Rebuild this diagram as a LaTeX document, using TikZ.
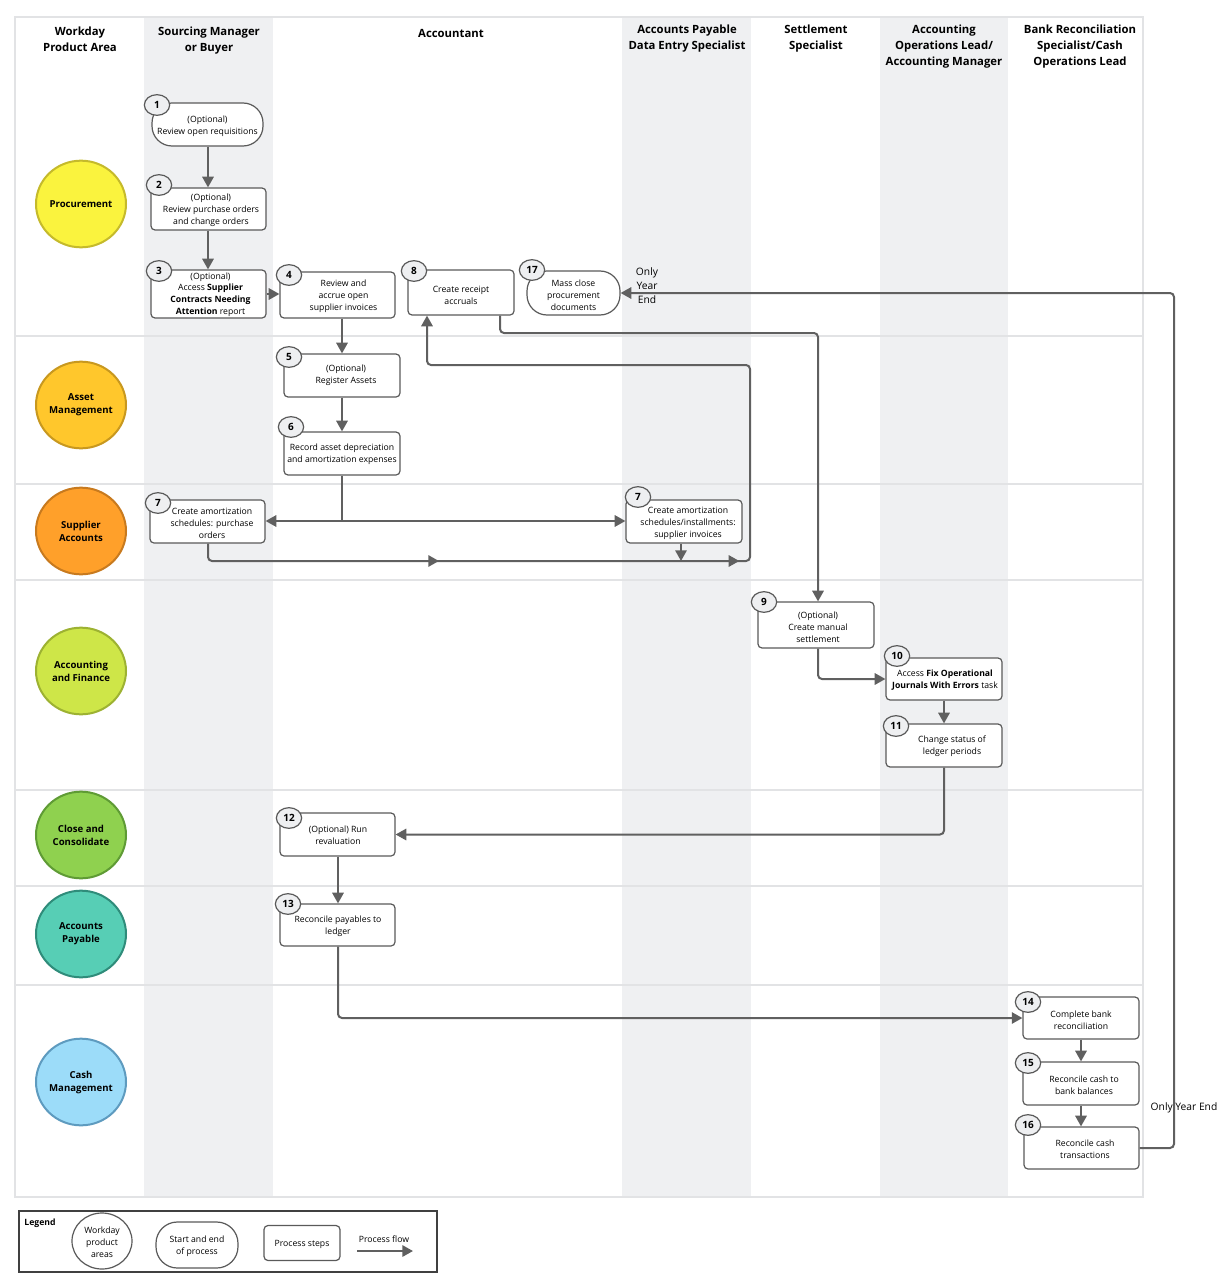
\documentclass[tikz,border=0pt]{standalone}
\usepackage{fontspec}
\setmainfont{Open Sans}
\usetikzlibrary{arrows.meta,decorations.markings,shapes.geometric}
\definecolor{lanegray}{HTML}{EFF0F2}
\definecolor{gridc}{HTML}{E2E3E5}
\definecolor{boxline}{HTML}{5A5A5A}
\definecolor{flowc}{HTML}{606060}
\definecolor{badgefill}{HTML}{EEEFF1}
\definecolor{procF}{HTML}{FAF33E}\definecolor{procD}{HTML}{C5BA2B}
\definecolor{assetF}{HTML}{FFC72C}\definecolor{assetD}{HTML}{C8981F}
\definecolor{suppF}{HTML}{FFA02A}\definecolor{suppD}{HTML}{C87A1E}
\definecolor{accF}{HTML}{CEE648}\definecolor{accD}{HTML}{9DB232}
\definecolor{closeF}{HTML}{8FD14F}\definecolor{closeD}{HTML}{5F9B35}
\definecolor{apF}{HTML}{57CEB5}\definecolor{apD}{HTML}{2F8C7A}
\definecolor{cashF}{HTML}{9CDCF9}\definecolor{cashD}{HTML}{5E9BBF}
\begin{document}
\begin{tikzpicture}[x=0.75pt,y=-0.75pt,
  hdr/.style={font=\fontsize{8.5}{12}\selectfont\bfseries, align=center},
  area/.style 2 args={ellipse, fill=#1, draw=#2, line width=1.5pt, minimum width=67.5pt, minimum height=65pt, inner sep=0pt},
  areatext/.style={align=center, font=\fontsize{7.2}{9.75}\selectfont\bfseries},
  basebox/.style={draw=boxline, fill=white, line width=0.9pt, align=center, inner sep=1pt, font=\fontsize{6.5}{9}\selectfont},
  procbox/.style={basebox, rounded corners=3pt},
  pillbox/.style={basebox, rounded corners=15pt},
  boxtext/.style={align=center, inner sep=1pt, font=\fontsize{6.5}{9}\selectfont},
  badge/.style={ellipse, draw=boxline, fill=badgefill, line width=0.9pt, minimum width=19pt, minimum height=15.5pt, inner sep=0pt, font=\fontsize{7.5}{9}\selectfont\bfseries},
  connline/.style={draw=flowc, line width=1.5pt, rounded corners=3pt},
  flow/.style={connline, -{Triangle[length=8pt,width=8.5pt]}},
  note/.style={font=\fontsize{7.7}{10.5}\selectfont, align=center},
]
\useasboundingbox (0,0) rectangle (1231,1280);
\fill[white] (0,0) rectangle (1231,1280);
% lanes
\fill[lanegray] (144,17) rectangle (273,1197);
\fill[lanegray] (622,17) rectangle (751,1197);
\fill[lanegray] (880,17) rectangle (1008,1197);
\draw[gridc, line width=1pt] (15,17) rectangle (1143,1197);
\foreach \yy in {336,484,580,790,886,985}
  \draw[gridc, line width=1.5pt] (15,\yy) -- (1143,\yy);
% headers
\node[hdr] (h0) at (80,39) {Workday\\Product Area};
\node[hdr] (h1) at (209,41) {Sourcing Manager\\or Buyer};
\node[hdr] (h2) at (451,33) {Accountant};
\node[hdr] (h3) at (687,39) {Accounts Payable\\Data Entry Specialist};
\node[hdr] (h4) at (816,39) {Settlement\\Specialist};
\node[hdr] (h5) at (944,47) {Accounting\\Operations Lead/\\Accounting Manager};
\node[hdr] (h6) at (1080,47) {Bank Reconciliation\\Specialist/Cash\\Operations Lead};
% product areas
\node[area={procF}{procD}] (a1) at (81,204) {};
\node[areatext] (a1t) at (a1) {Procurement};
\node[area={assetF}{assetD}] (a2) at (81,405) {};
\node[areatext] (a2t) at (a2) {Asset\\Management};
\node[area={suppF}{suppD}] (a3) at (81,531) {};
\node[areatext] (a3t) at (a3) {Supplier\\Accounts};
\node[area={accF}{accD}] (a4) at (81,671) {};
\node[areatext] (a4t) at (a4) {Accounting\\and Finance};
\node[area={closeF}{closeD}] (a5) at (81,835) {};
\node[areatext] (a5t) at (a5) {Close and\\Consolidate};
\node[area={apF}{apD}] (a6) at (81,934) {};
\node[areatext] (a6t) at (a6) {Accounts\\Payable};
\node[area={cashF}{cashD}] (a7) at (81,1082) {};
\node[areatext] (a7t) at (a7) {Cash\\Management};
% process boxes
\node[pillbox, minimum width=83.25pt, minimum height=32.25pt] (n1) at (207.5,124.5) {};
\node[boxtext] (n1t) at (207.5,126) {(Optional)\\Review open requisitions};
\node[procbox, minimum width=86.25pt, minimum height=31.5pt] (n2) at (208.5,209) {};
\node[boxtext] (n2t) at (211,210.5) {(Optional)\\Review purchase orders\\and change orders};
\node[procbox, minimum width=86.25pt, minimum height=36pt] (n3) at (208.5,294) {};
\node[boxtext, font=\fontsize{6.5}{8.8}\selectfont] (n3t) at (210.5,294.5) {(Optional)\\Access \textbf{Supplier}\\\textbf{Contracts Needing}\\\textbf{Attention} report};
\node[procbox, minimum width=86.25pt, minimum height=34.5pt] (n4) at (337.5,295) {};
\node[boxtext] (n4t) at (343.5,296) {Review and\\accrue open\\supplier invoices};
\node[procbox, minimum width=79.5pt, minimum height=33.75pt] (n8) at (461,292.5) {};
\node[boxtext] (n8t) at (461,295) {Create receipt\\accruals};
\node[pillbox, minimum width=69.75pt, minimum height=33pt] (n17) at (573.5,293) {};
\node[boxtext] (n17t) at (573.5,295) {Mass close\\procurement\\documents};
\node[procbox, minimum width=87pt, minimum height=32.25pt] (n5) at (342,375.5) {};
\node[boxtext] (n5t) at (346,375) {(Optional)\\Register Assets};
\node[procbox, minimum width=87pt, minimum height=32.25pt] (n6) at (342,453.5) {};
\node[boxtext] (n6t) at (342,454) {Record asset depreciation\\and amortization expenses};
\node[procbox, minimum width=86.25pt, minimum height=32.25pt] (n7a) at (207.5,521.5) {};
\node[boxtext] (n7at) at (212,523.5) {Create amortization\\schedules: purchase\\orders};
\node[procbox, minimum width=87pt, minimum height=32.25pt] (n7b) at (684,521.5) {};
\node[boxtext] (n7bt) at (688,523.5) {Create amortization\\schedules/installments:\\supplier invoices};
\node[procbox, minimum width=87pt, minimum height=34.5pt] (n9) at (816,625) {};
\node[boxtext] (n9t) at (818,627) {(Optional)\\Create manual\\settlement};
\node[procbox, minimum width=87pt, minimum height=31.5pt] (n10) at (944,679) {};
\node[boxtext] (n10t) at (945,680.5) {Access \textbf{Fix Operational}\\\textbf{Journals With Errors} task};
\node[procbox, minimum width=87pt, minimum height=32.25pt] (n11) at (944,745.5) {};
\node[boxtext] (n11t) at (952,746.5) {Change status of\\ledger periods};
\node[procbox, minimum width=86.25pt, minimum height=32.25pt] (n12) at (337.5,834.5) {};
\node[boxtext] (n12t) at (338,835.5) {(Optional) Run\\revaluation};
\node[procbox, minimum width=86.25pt, minimum height=31.5pt] (n13) at (337.5,925) {};
\node[boxtext] (n13t) at (338,926.5) {Reconcile payables to\\ledger};
\node[procbox, minimum width=87pt, minimum height=31.5pt] (n14) at (1081,1018) {};
\node[boxtext] (n14t) at (1081,1020) {Complete bank\\reconciliation};
\node[procbox, minimum width=87pt, minimum height=32.25pt] (n15) at (1081,1083.5) {};
\node[boxtext] (n15t) at (1084,1085) {Reconcile cash to\\bank balances};
\node[procbox, minimum width=86.25pt, minimum height=31.5pt] (n16) at (1081.5,1148) {};
\node[boxtext] (n16t) at (1085,1149) {Reconcile cash\\transactions};
% badges
\node[badge] (b1) at (157,105) {1};
\node[badge] (b2) at (159,185) {2};
\node[badge] (b3) at (159,271) {3};
\node[badge] (b4) at (289,275) {4};
\node[badge] (b8) at (414,271) {8};
\node[badge] (b17) at (532,270) {17};
\node[badge] (b5) at (289,357) {5};
\node[badge] (b6) at (291,427) {6};
\node[badge] (b7a) at (158,503) {7};
\node[badge] (b7b) at (638,497) {7};
\node[badge] (b9) at (764,602) {9};
\node[badge] (b10) at (897,656) {10};
\node[badge] (b11) at (896,726) {11};
\node[badge] (b12) at (289,818) {12};
\node[badge] (b13) at (288,904) {13};
\node[badge] (b14) at (1028,1002) {14};
\node[badge] (b15) at (1028,1063) {15};
\node[badge] (b16) at (1028,1125) {16};
% helper coordinates
\coordinate (split) at (342,521);
\coordinate (c1) at (750,561);
\coordinate (c2) at (750,365);
\coordinate (c3) at (427,365);
\coordinate (c4) at (500,333);
\coordinate (c5) at (1174,293);
\coordinate (x7b) at (681,0);
% connectors
\draw[flow] (n1.south -| 208,0) -- (208,0 |- n2.north);
\draw[flow] (n2.south -| 208,0) -- (208,0 |- n3.north);
\draw[flow] (n3.east) -- (n3.east -| n4.west);
\draw[flow] (n5.north |- n4.south) -- (n5.north);
\draw[flow] (n5.south) -- (n6.north);
\draw[connline] (n6.south) -- (split);
\draw[flow] (split) -- (split -| n7a.east);
\draw[flow] (split) -- (split -| n7b.west);
\draw[flow, postaction={decorate}, decoration={markings,
   mark=at position 0.22 with {\arrow{Triangle[length=8pt,width=8.5pt]}},
   mark=at position 0.488 with {\arrow{Triangle[length=8pt,width=8.5pt]}}}]
  (n7a.south -| 208,0) |- (c1) -- (c2) -- (c3) -- (c3 |- n8.south);
\draw[flow] (x7b |- n7b.south) -- (x7b |- c1);
\draw[flow] (c4 |- n8.south) -- (c4) -| (n9.north -| 818,0);
\draw[flow] (n9.south -| 818,0) |- (n10.west);
\draw[flow] (n10.south) -- (n11.north);
\draw[flow] (n11.south) |- (n12.east);
\draw[flow] (n12.south -| 338,0) -- (338,0 |- n13.north);
\draw[flow] (n13.south -| 338,0) |- (n14.west);
\draw[flow] (n14.south) -- (n15.north);
\draw[flow] (n15.south) -- (n16.north -| n15.south);
\draw[flow] (n16.east) -| (c5) -- (n17.east);
% notes
\node[note] (o1) at (647,286) {Only\\Year\\End};
\node[note] (o2) at (1184,1108) {Only Year End};
% legend
\draw[draw=black!75, line width=1.3pt] (19,1211) rectangle (437,1272);
\node[font=\fontsize{6.5}{9}\selectfont\bfseries] (lg) at (40,1223) {Legend};
\node[ellipse, draw=boxline, line width=0.9pt, minimum width=45pt, minimum height=42pt, inner sep=0pt] (lg1) at (102,1241) {};
\node[boxtext] (lg1t) at (102,1242) {Workday\\product\\areas};
\node[pillbox, minimum width=61.5pt, minimum height=34.5pt, rounded corners=16pt] (lg2) at (197,1245) {};
\node[boxtext] (lg2t) at (197,1246) {Start and end\\of process};
\node[procbox, minimum width=57pt, minimum height=26.25pt] (lg3) at (302,1243) {};
\node[boxtext] (lg3t) at (302,1244) {Process steps};
\node[boxtext] (lg4) at (384,1239) {Process flow};
\coordinate (lgA) at (357,1251);
\coordinate (lgB) at (413,1251);
\draw[flow] (lgA) -- (lgB);
\end{tikzpicture}
\end{document}
